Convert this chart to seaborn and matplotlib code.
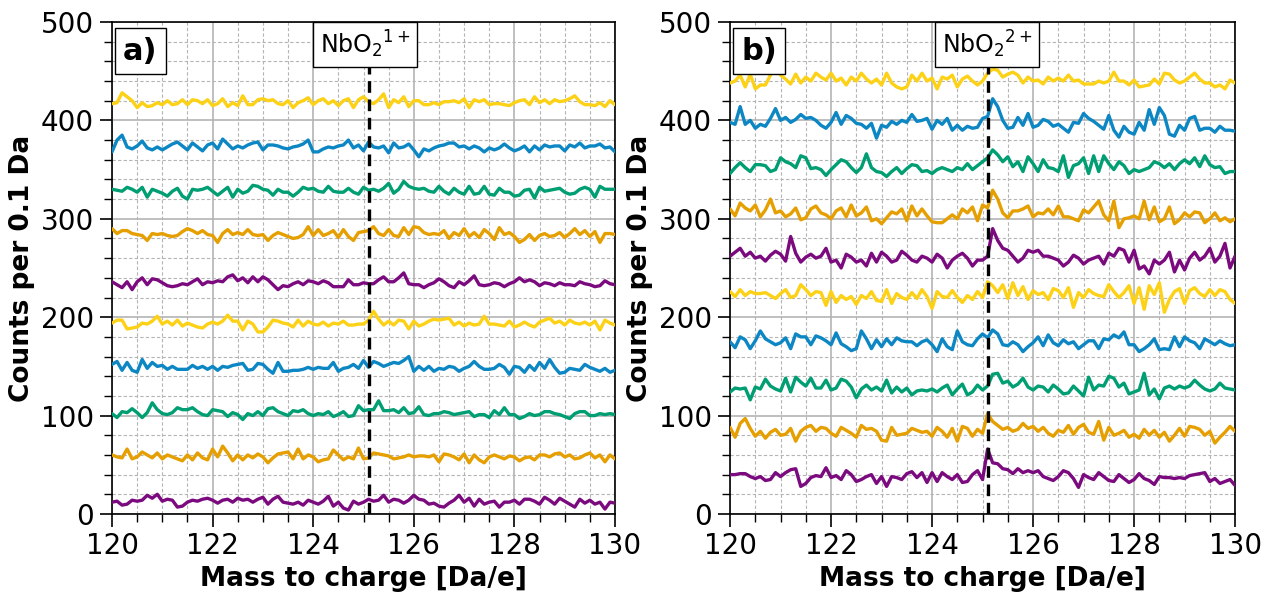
import numpy as np
import pandas as pd
import matplotlib
matplotlib.use("Agg")
import matplotlib.pyplot as plt
from matplotlib.ticker import MultipleLocator
import seaborn as sns

# ---------------- data ----------------
mz_start, mz_stop, mz_step = 120.0, 130.0, 0.1
mz = np.round(np.arange(mz_start, mz_stop + mz_step / 2, mz_step), 1)

colors = ["#7B0A7F", "#E69F00", "#009E73", "#0C87C4", "#FCD116"]

# Panel a) NbO2 1+  (bottom to top)
a_purple0 = [12, 13, 9, 10, 14, 13, 14, 19, 16, 20,
             13, 15, 14, 7, 8, 12, 14, 13, 15, 16,
             14, 11, 14, 15, 12, 16, 14, 15, 12, 15,
             17, 10, 15, 18, 12, 11, 10, 12, 9, 14,
             12, 10, 13, 18, 8, 12, 6, 4, 13, 10,
             12, 15, 13, 14, 19, 12, 15, 14, 11, 14,
             19, 15, 14, 10, 11, 8, 7, 11, 14, 19,
             12, 16, 8, 15, 10, 12, 13, 7, 12, 12,
             14, 10, 15, 15, 13, 10, 17, 14, 10, 16,
             13, 10, 7, 15, 11, 14, 10, 12, 5, 12,
             11]
a_orange0 = [60, 58, 57, 66, 56, 58, 63, 60, 57, 62,
             56, 60, 58, 56, 54, 60, 55, 62, 57, 55,
             66, 58, 69, 62, 54, 60, 55, 60, 57, 61,
             58, 52, 57, 61, 62, 63, 56, 66, 56, 60,
             58, 53, 55, 56, 65, 60, 55, 58, 56, 67,
             56, 57, 62, 61, 60, 59, 56, 57, 58, 60,
             58, 59, 59, 58, 60, 53, 61, 60, 58, 55,
             61, 52, 60, 55, 52, 58, 60, 58, 56, 59,
             58, 54, 57, 58, 55, 60, 60, 58, 61, 62,
             58, 60, 56, 57, 60, 62, 57, 60, 53, 60,
             56]
a_green0 = [102, 98, 104, 103, 107, 103, 98, 103, 113, 106,
            102, 101, 103, 108, 106, 106, 108, 104, 101, 100,
            106, 105, 104, 99, 103, 101, 96, 102, 100, 104,
            100, 107, 108, 104, 102, 100, 105, 104, 106, 102,
            100, 102, 101, 104, 99, 101, 104, 99, 100, 110,
            105, 106, 106, 115, 105, 105, 106, 103, 108, 102,
            103, 109, 101, 100, 102, 102, 104, 103, 101, 102,
            103, 104, 99, 101, 101, 98, 105, 101, 108, 101,
            101, 97, 99, 102, 100, 101, 104, 104, 102, 101,
            99, 97, 102, 104, 104, 100, 100, 102, 101, 102,
            101]
a_blue0 = [152, 155, 146, 154, 146, 144, 157, 148, 154, 150,
           151, 147, 150, 147, 147, 147, 151, 148, 150, 147,
           150, 146, 150, 149, 151, 152, 153, 146, 147, 153,
           152, 147, 143, 154, 145, 145, 146, 146, 147, 149,
           147, 149, 148, 148, 154, 145, 148, 149, 152, 148,
           156, 149, 155, 153, 150, 152, 154, 153, 156, 160,
           145, 150, 146, 150, 145, 148, 147, 150, 149, 145,
           148, 150, 155, 150, 147, 147, 148, 152, 149, 142,
           150, 149, 144, 151, 146, 154, 148, 157, 149, 143,
           144, 148, 147, 146, 152, 149, 147, 145, 148, 144,
           146]
a_yellow0 = [194, 197, 197, 188, 189, 190, 194, 193, 196, 201,
             193, 196, 192, 197, 191, 194, 192, 190, 189, 193,
             195, 193, 196, 202, 196, 196, 187, 196, 193, 185,
             185, 190, 197, 196, 194, 193, 190, 197, 191, 196,
             193, 192, 195, 191, 194, 193, 196, 192, 192, 193,
             193, 197, 206, 198, 192, 196, 192, 197, 196, 188,
             196, 191, 193, 196, 198, 197, 198, 199, 192, 195,
             191, 194, 192, 193, 201, 193, 193, 192, 191, 196,
             190, 192, 195, 192, 190, 195, 197, 199, 194, 196,
             192, 197, 194, 193, 195, 192, 196, 187, 197, 194,
             192]
a_purple1 = [236, 233, 230, 236, 228, 236, 240, 233, 239, 238,
             235, 232, 231, 232, 234, 233, 236, 239, 233, 236,
             235, 237, 236, 241, 243, 237, 240, 235, 241, 236,
             241, 238, 233, 228, 232, 231, 234, 236, 233, 237,
             236, 234, 237, 235, 231, 231, 231, 238, 233, 233,
             235, 234, 234, 238, 241, 236, 236, 240, 245, 234,
             233, 233, 230, 233, 235, 239, 236, 232, 230, 236,
             233, 237, 242, 233, 232, 233, 235, 234, 231, 234,
             236, 240, 236, 238, 236, 232, 235, 234, 232, 235,
             233, 233, 232, 236, 234, 233, 231, 232, 237, 234,
             233]
a_orange1 = [290, 285, 288, 288, 285, 284, 283, 278, 285, 284,
             285, 283, 282, 283, 287, 290, 288, 285, 288, 284,
             283, 276, 285, 289, 284, 286, 284, 289, 284, 283,
             284, 278, 283, 286, 284, 282, 280, 281, 284, 292,
             283, 289, 283, 285, 288, 281, 289, 282, 278, 286,
             287, 288, 292, 285, 283, 289, 283, 282, 291, 284,
             292, 291, 286, 284, 285, 284, 288, 280, 286, 283,
             290, 282, 286, 281, 289, 285, 279, 291, 284, 286,
             282, 276, 279, 284, 278, 283, 285, 282, 283, 286,
             281, 285, 290, 284, 288, 282, 287, 276, 285, 285,
             284]
a_green1 = [330, 329, 328, 332, 330, 327, 332, 322, 330, 328,
            326, 323, 328, 331, 323, 320, 330, 329, 330, 332,
            328, 324, 328, 332, 322, 330, 326, 328, 334, 333,
            330, 329, 324, 330, 327, 327, 323, 327, 332, 330,
            331, 328, 327, 333, 328, 327, 327, 331, 327, 325,
            332, 329, 330, 328, 331, 336, 326, 330, 338, 333,
            331, 330, 331, 328, 327, 333, 328, 325, 331, 327,
            325, 333, 325, 326, 333, 325, 324, 331, 327, 327,
            323, 324, 329, 330, 321, 332, 328, 329, 330, 331,
            327, 325, 326, 330, 332, 330, 322, 333, 330, 330,
            330]
a_blue1 = [368, 380, 385, 373, 371, 374, 379, 372, 370, 373,
           370, 373, 376, 378, 374, 370, 377, 373, 369, 375,
           377, 371, 381, 376, 371, 374, 372, 375, 377, 378,
           370, 375, 375, 374, 372, 371, 373, 374, 376, 380,
           368, 368, 371, 373, 372, 374, 375, 380, 372, 375,
           369, 378, 373, 372, 374, 367, 377, 372, 373, 376,
           370, 363, 371, 369, 372, 374, 375, 377, 377, 373,
           374, 371, 374, 372, 368, 372, 370, 372, 376, 372,
           369, 371, 374, 368, 374, 370, 375, 373, 374, 374,
           369, 375, 373, 377, 372, 374, 374, 376, 372, 373,
           368]
a_yellow1 = [417, 418, 428, 424, 420, 413, 418, 414, 415, 418,
             416, 420, 416, 417, 421, 416, 421, 420, 417, 421,
             415, 417, 422, 414, 418, 415, 425, 416, 416, 421,
             422, 420, 421, 417, 416, 420, 413, 418, 420, 423,
             416, 420, 422, 417, 420, 415, 420, 422, 413, 421,
             424, 419, 417, 421, 427, 413, 421, 418, 424, 414,
             420, 420, 416, 416, 418, 416, 419, 419, 420, 418,
             422, 413, 421, 419, 421, 416, 417, 417, 416, 415,
             418, 420, 421, 416, 424, 418, 421, 417, 421, 419,
             420, 422, 425, 419, 416, 416, 415, 418, 414, 420,
             416]

# Panel b) NbO2 2+  (bottom to top)
b_purple0 = [40, 40, 41, 41, 38, 36, 38, 34, 35, 42,
             38, 42, 45, 46, 28, 31, 37, 39, 38, 47,
             37, 39, 35, 44, 40, 33, 35, 38, 40, 31,
             38, 28, 38, 37, 35, 41, 43, 37, 42, 32,
             42, 33, 42, 38, 35, 40, 32, 33, 40, 44,
             35, 66, 52, 51, 46, 45, 41, 46, 42, 44,
             42, 44, 38, 36, 34, 38, 44, 42, 36, 27,
             40, 37, 35, 42, 38, 34, 33, 40, 36, 32,
             35, 41, 36, 34, 30, 38, 37, 37, 36, 37,
             36, 39, 40, 41, 42, 33, 36, 31, 33, 35,
             29]
b_orange0 = [88, 78, 92, 97, 87, 79, 84, 77, 83, 86,
             80, 81, 87, 74, 84, 88, 90, 84, 88, 87,
             82, 79, 88, 85, 82, 78, 90, 86, 87, 84,
             75, 74, 88, 80, 81, 82, 87, 85, 83, 84,
             79, 88, 84, 78, 87, 74, 89, 87, 79, 86,
             82, 102, 94, 90, 86, 88, 84, 86, 92, 87,
             89, 84, 88, 82, 79, 85, 83, 90, 81, 88,
             91, 83, 81, 94, 75, 88, 80, 82, 85, 78,
             81, 77, 86, 80, 85, 78, 83, 74, 80, 87,
             79, 89, 88, 86, 80, 84, 72, 78, 83, 89,
             84]
b_green0 = [124, 128, 127, 128, 116, 129, 127, 137, 130, 127,
            125, 138, 124, 139, 134, 130, 138, 128, 128, 136,
            126, 128, 137, 135, 129, 118, 127, 131, 126, 129,
            125, 136, 123, 129, 124, 128, 121, 125, 126, 125,
            127, 124, 128, 131, 121, 127, 132, 121, 124, 131,
            126, 130, 142, 143, 133, 135, 129, 132, 138, 129,
            126, 130, 129, 124, 131, 127, 122, 123, 130, 125,
            120, 139, 126, 131, 130, 140, 138, 129, 133, 122,
            124, 126, 143, 121, 127, 117, 128, 130, 127, 130,
            128, 130, 136, 131, 127, 125, 127, 133, 128, 127,
            126]
b_blue0 = [175, 169, 180, 177, 168, 176, 186, 178, 175, 172,
           174, 179, 168, 183, 180, 180, 172, 181, 179, 176,
           172, 184, 173, 170, 166, 168, 186, 178, 168, 177,
           170, 178, 172, 179, 176, 175, 175, 171, 175, 177,
           172, 165, 178, 170, 167, 186, 175, 172, 171, 178,
           183, 179, 187, 183, 172, 171, 175, 172, 165, 170,
           174, 180, 171, 182, 174, 171, 177, 173, 175, 168,
           172, 176, 176, 168, 178, 177, 182, 179, 185, 172,
           172, 165, 168, 172, 178, 167, 168, 167, 180, 170,
           180, 176, 174, 168, 178, 175, 172, 176, 173, 171,
           172]
b_yellow0 = [226, 221, 228, 222, 226, 224, 224, 225, 222, 219,
             224, 228, 220, 222, 233, 228, 222, 226, 225, 212,
             226, 215, 222, 218, 221, 213, 222, 219, 226, 217,
             216, 228, 214, 224, 220, 218, 225, 219, 228, 221,
             209, 226, 221, 220, 227, 220, 215, 222, 218, 226,
             220, 236, 232, 225, 233, 219, 235, 222, 231, 218,
             227, 223, 225, 218, 229, 227, 220, 230, 210, 225,
             220, 228, 224, 222, 221, 233, 226, 220, 225, 232,
             214, 230, 208, 232, 223, 235, 205, 218, 226, 229,
             214, 227, 230, 224, 221, 228, 222, 228, 226, 218,
             214]
b_purple1 = [262, 266, 270, 262, 266, 260, 262, 257, 263, 267,
             264, 257, 282, 265, 256, 261, 264, 260, 262, 270,
             256, 258, 250, 264, 261, 256, 258, 252, 265, 256,
             266, 262, 256, 258, 267, 263, 258, 256, 262, 260,
             256, 264, 260, 250, 258, 262, 265, 260, 252, 258,
             258, 262, 290, 278, 270, 268, 262, 256, 260, 268,
             266, 268, 262, 262, 260, 258, 252, 256, 263, 260,
             254, 258, 260, 262, 254, 265, 262, 270, 268, 256,
             268, 249, 252, 244, 258, 254, 258, 266, 246, 258,
             248, 260, 266, 258, 262, 270, 256, 262, 275, 250,
             262]
b_orange1 = [310, 303, 316, 311, 308, 314, 302, 309, 320, 306,
             308, 302, 305, 311, 299, 301, 310, 313, 306, 304,
             300, 308, 311, 302, 314, 303, 306, 312, 298, 300,
             295, 301, 307, 305, 310, 298, 313, 303, 310, 303,
             297, 296, 296, 300, 304, 300, 310, 306, 312, 298,
             314, 311, 329, 320, 306, 301, 308, 308, 310, 313,
             302, 306, 305, 310, 304, 313, 302, 302, 300, 298,
             309, 306, 312, 318, 304, 298, 318, 291, 300, 301,
             303, 300, 318, 299, 312, 297, 300, 312, 295, 299,
             306, 302, 307, 306, 296, 300, 306, 298, 301, 297,
             300]
b_green1 = [346, 352, 357, 352, 348, 355, 355, 354, 348, 350,
            362, 358, 356, 352, 364, 362, 351, 352, 350, 344,
            350, 355, 360, 358, 352, 347, 352, 366, 352, 348,
            347, 343, 348, 352, 346, 351, 355, 354, 348, 349,
            346, 350, 352, 350, 348, 352, 350, 356, 350, 354,
            358, 362, 370, 365, 358, 363, 353, 358, 348, 363,
            356, 348, 360, 352, 351, 348, 364, 342, 354, 356,
            362, 346, 364, 348, 364, 356, 350, 358, 354, 346,
            350, 348, 350, 352, 358, 356, 352, 356, 350, 356,
            360, 356, 362, 353, 364, 355, 352, 353, 346, 348,
            348]
b_blue1 = [398, 396, 414, 396, 400, 392, 396, 394, 402, 412,
           400, 403, 398, 401, 406, 402, 403, 400, 395, 392,
           398, 408, 396, 405, 402, 397, 396, 392, 397, 382,
           395, 393, 399, 396, 400, 398, 406, 399, 400, 402,
           391, 400, 396, 402, 390, 395, 390, 394, 392, 393,
           402, 404, 422, 414, 400, 392, 393, 403, 395, 407,
           393, 395, 401, 399, 394, 396, 392, 388, 398, 397,
           407, 402, 399, 395, 391, 405, 390, 383, 394, 388,
           386, 398, 390, 411, 396, 413, 405, 386, 384, 395,
           390, 402, 404, 390, 392, 392, 388, 394, 390, 390,
           389]
b_yellow1 = [438, 440, 446, 434, 447, 432, 436, 436, 446, 456,
             446, 442, 437, 447, 438, 444, 440, 448, 444, 441,
             448, 440, 443, 436, 444, 440, 448, 442, 438, 442,
             436, 448, 438, 434, 432, 434, 446, 440, 448, 440,
             443, 432, 444, 442, 446, 434, 442, 445, 440, 436,
             440, 448, 452, 451, 444, 447, 449, 446, 438, 444,
             440, 441, 437, 444, 440, 443, 440, 446, 440, 441,
             437, 437, 437, 440, 438, 440, 449, 440, 440, 436,
             441, 434, 435, 436, 442, 437, 448, 447, 441, 438,
             440, 444, 448, 442, 438, 438, 434, 436, 432, 441,
             438]

series_a = [a_purple0, a_orange0, a_green0, a_blue0, a_yellow0,
            a_purple1, a_orange1, a_green1, a_blue1, a_yellow1]
series_b = [b_purple0, b_orange0, b_green0, b_blue0, b_yellow0,
            b_purple1, b_orange1, b_green1, b_blue1, b_yellow1]

panel_labels = ["a)", "b)"]
ion_labels = [r"NbO$_2$$^{1+}$", r"NbO$_2$$^{2+}$"]
marker_mz = [125.1, 125.1]
label_mz = [125.03, 125.09]
xlabel = "Mass to charge [Da/e]"
ylabel = "Counts per 0.1 Da"

# ---------------- plot ----------------
sns.set_theme(style="ticks")
plt.rcParams["font.family"] = ["DejaVu Sans"]
plt.rcParams.update({
    "text.color": "black",
    "axes.labelcolor": "black",
    "xtick.color": "black",
    "ytick.color": "black",
    "xtick.labelcolor": "black",
    "ytick.labelcolor": "black",
})

fig = plt.figure(figsize=(12.67, 6.01), dpi=100)
axes = [fig.add_axes([0.0884, 0.1448, 0.3970, 0.8186]),
        fig.add_axes([0.5762, 0.1448, 0.3986, 0.8186])]

for ax, series, plab, ilab, mpos, lpos in zip(axes, [series_a, series_b], panel_labels,
                                               ion_labels, marker_mz, label_mz):
    for i, vals in enumerate(series):
        df = pd.DataFrame({"mz": mz, "counts": vals})
        sns.lineplot(data=df, x="mz", y="counts", ax=ax, color=colors[i % 5],
                     linewidth=2.4, zorder=3)
    ax.set_xlim(120, 130)
    ax.set_ylim(0, 500)
    ax.xaxis.set_major_locator(MultipleLocator(2))
    ax.xaxis.set_minor_locator(MultipleLocator(0.5))
    ax.yaxis.set_major_locator(MultipleLocator(100))
    ax.yaxis.set_minor_locator(MultipleLocator(20))
    ax.grid(which="major", color="#b4b4b4", linestyle="-", linewidth=1.2, zorder=0)
    ax.grid(which="minor", color="#b4b4b4", linestyle=(0, (3, 2)), linewidth=0.8, zorder=0)
    ax.set_axisbelow(True)
    ax.tick_params(which="major", direction="out", length=9, width=1.2, labelsize=20,
                   color="black", labelcolor="black", pad=4)
    ax.tick_params(which="minor", direction="out", length=6, width=1.0, color="black")
    for sp in ax.spines.values():
        sp.set_color("black")
        sp.set_linewidth(1.2)
    ax.set_xlabel(xlabel, fontsize=19, fontweight="bold", labelpad=4, color="black")
    ax.set_ylabel(ylabel, fontsize=19, fontweight="bold", labelpad=4, color="black")
    ax.axvline(mpos, color="black", linestyle=(0, (3.5, 2)), linewidth=2.4, zorder=4)
    ax.text(0.022, 0.97, plab, transform=ax.transAxes, fontsize=22, fontweight="bold",
            ha="left", va="top", zorder=6, color="black",
            bbox=dict(boxstyle="square,pad=0.28", facecolor="white", edgecolor="black",
                      linewidth=1.0))
    ax.text(lpos, 493, ilab, fontsize=17, ha="center", va="top", zorder=6, color="black",
            bbox=dict(boxstyle="square,pad=0.28", facecolor="white", edgecolor="black",
                      linewidth=1.0))

fig.savefig("out.png", dpi=100)
